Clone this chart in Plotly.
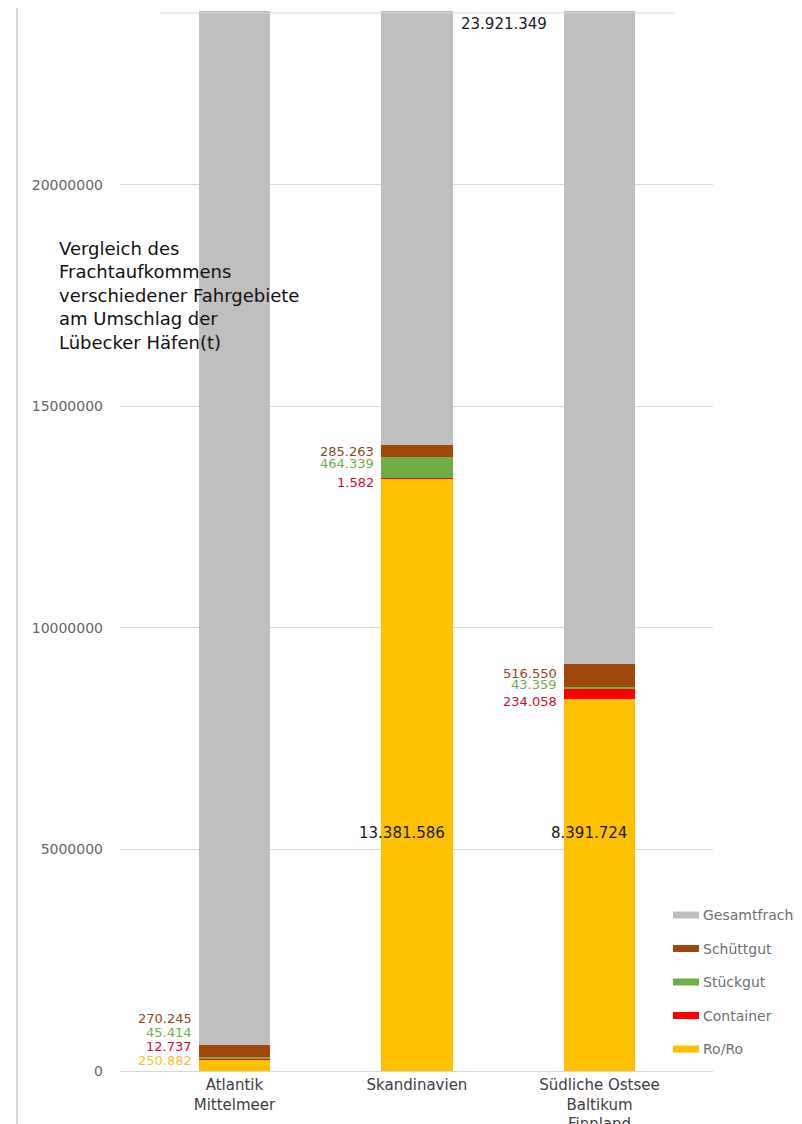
import plotly.graph_objects as go

# ---------------- data ----------------
categories = ["Atlantik<br>Mittelmeer", "Skandinavien", "Südliche Ostsee<br>Baltikum<br>Finnland"]
roro = [250882, 13381586, 8391724]
container = [12737, 1582, 234058]
stueckgut = [45414, 464339, 43359]
schuettgut = [270245, 285263, 516550]
gesamt = [23921349, 23921349, 23921349]
gesamt_label = 23921349

series_names = ["Ro/Ro", "Container", "Stückgut", "Schüttgut", "Gesamtfracht"]
y_ticks = [0, 5000000, 10000000, 15000000, 20000000]

# ---------------- styles ----------------
bar_colors = {"Ro/Ro": "#FFC000", "Container": "#FF0000", "Stückgut": "#70AD47",
              "Schüttgut": "#9E480E", "Gesamtfracht": "#BFBFBF"}
label_colors = {"Ro/Ro": "#F5C02E", "Container": "#C8102E", "Stückgut": "#74AD52",
                "Schüttgut": "#8C4A26"}
FONT = "DejaVu Sans"
BAR_W = 0.39

# page offset (body margin) and plot-area geometry in screen pixels
OFF = 8
PLOT_TOP, PLOT_BOT, PLOT_L, PLOT_R = 11, 1071, 120, 713
FIG_W, FIG_H = 802, 1124


def de(v):
    return f"{v:,}".replace(",", ".")


def py(px):
    return (PLOT_BOT - px) / (PLOT_BOT - PLOT_TOP)


def pxp(px):
    return (px - PLOT_L) / (PLOT_R - PLOT_L)


series = {"Ro/Ro": roro, "Container": container, "Stückgut": stueckgut,
          "Schüttgut": schuettgut, "Gesamtfracht": gesamt}

fig = go.Figure()
for name in series_names:
    fig.add_trace(go.Bar(x=categories, y=series[name], name=name,
                         marker=dict(color=bar_colors[name], line=dict(width=0)),
                         width=BAR_W, showlegend=False))

# ---------------- data labels ----------------
label_shift = {
    0: {"Ro/Ro": 5, "Container": 13, "Stückgut": 26, "Schüttgut": 33},
    1: {"Container": -4, "Stückgut": 4, "Schüttgut": 0},
    2: {"Container": -8, "Stückgut": 3, "Schüttgut": 2},
}
annotations = []
for i in range(len(categories)):
    base = 0
    centers = {}
    for name in ["Ro/Ro", "Container", "Stückgut", "Schüttgut"]:
        v = series[name][i]
        centers[name] = base + v / 2
        base += v
    for name, sh in label_shift[i].items():
        annotations.append(dict(
            x=i - BAR_W / 2, y=centers[name], xref="x", yref="y",
            text=de(series[name][i]), showarrow=False, xanchor="right", yanchor="middle",
            xshift=-5, yshift=sh, font=dict(family=FONT, size=13, color=label_colors[name])))

big_shift = {1: (-15, -58), 2: (-10, 52)}
for i, (xs, ys) in big_shift.items():
    annotations.append(dict(
        x=i, y=roro[i] / 2, xref="x", yref="y", text=de(roro[i]), showarrow=False,
        xanchor="center", yanchor="middle", xshift=xs, yshift=ys,
        font=dict(family=FONT, size=15, color="#1a1a1a")))

annotations.append(dict(
    x=pxp(504), y=py(24), xref="paper", yref="paper", text=de(gesamt_label), showarrow=False,
    xanchor="center", yanchor="middle", font=dict(family=FONT, size=15, color="#1a1a1a")))

annotations.append(dict(
    x=pxp(57), y=py(236), xref="paper", yref="paper",
    text="Vergleich des<br>Frachtaufkommens<br>verschiedener Fahrgebiete<br>am Umschlag der<br>Lübecker Häfen(t)",
    showarrow=False, xanchor="left", yanchor="top", align="left",
    font=dict(family=FONT, size=18, color="#111111")))

# ---------------- manual legend ----------------
shapes = []
legend_order = ["Gesamtfracht", "Schüttgut", "Stückgut", "Container", "Ro/Ro"]
legend_y = [915, 948.5, 982, 1015.5, 1049]
for name, ly in zip(legend_order, legend_y):
    shapes.append(dict(type="rect", xref="paper", yref="paper",
                       x0=pxp(673), x1=pxp(699), y0=py(ly + 3.5), y1=py(ly - 3.5),
                       fillcolor=bar_colors[name], line=dict(width=0)))
    annotations.append(dict(x=pxp(701), y=py(ly), xref="paper", yref="paper", text=name,
                            showarrow=False, xanchor="left", yanchor="middle",
                            font=dict(family=FONT, size=14, color="#707070")))

# top line and chart border
shapes.append(dict(type="line", xref="paper", yref="paper", x0=pxp(160), x1=pxp(675),
                   y0=py(13), y1=py(13), line=dict(color="#D9D9D9", width=1)))
shapes.append(dict(type="line", xref="paper", yref="paper", x0=pxp(17), x1=pxp(17),
                   y0=py(3), y1=py(1140), line=dict(color="#D9D9D9", width=2)))
shapes.append(dict(type="line", xref="paper", yref="paper", x0=pxp(17), x1=pxp(820),
                   y0=py(3), y1=py(3), line=dict(color="#D9D9D9", width=2)))

fig.update_layout(
    width=FIG_W, height=FIG_H, barmode="stack",
    margin=dict(l=PLOT_L - OFF, r=FIG_W - (PLOT_R - OFF), t=PLOT_TOP - OFF,
                b=FIG_H - (PLOT_BOT - OFF), pad=0, autoexpand=False),
    paper_bgcolor="white", plot_bgcolor="white",
    annotations=annotations, shapes=shapes, showlegend=False,
    xaxis=dict(type="category", range=[-0.627, 2.622], showgrid=False, automargin=False,
               showline=True, linecolor="#D9D9D9", linewidth=1, ticks="",
               tickfont=dict(family=FONT, size=15, color="#404040")),
    yaxis=dict(range=[0, gesamt_label], tickvals=y_ticks, automargin=False,
               ticktext=[str(v) for v in y_ticks], showgrid=True, gridcolor="#D9D9D9",
               gridwidth=1, zeroline=False, showline=False, ticks="",
               ticklabelstandoff=16,
               tickfont=dict(family=FONT, size=14, color="#666666")),
)

fig.write_html("out.html")
